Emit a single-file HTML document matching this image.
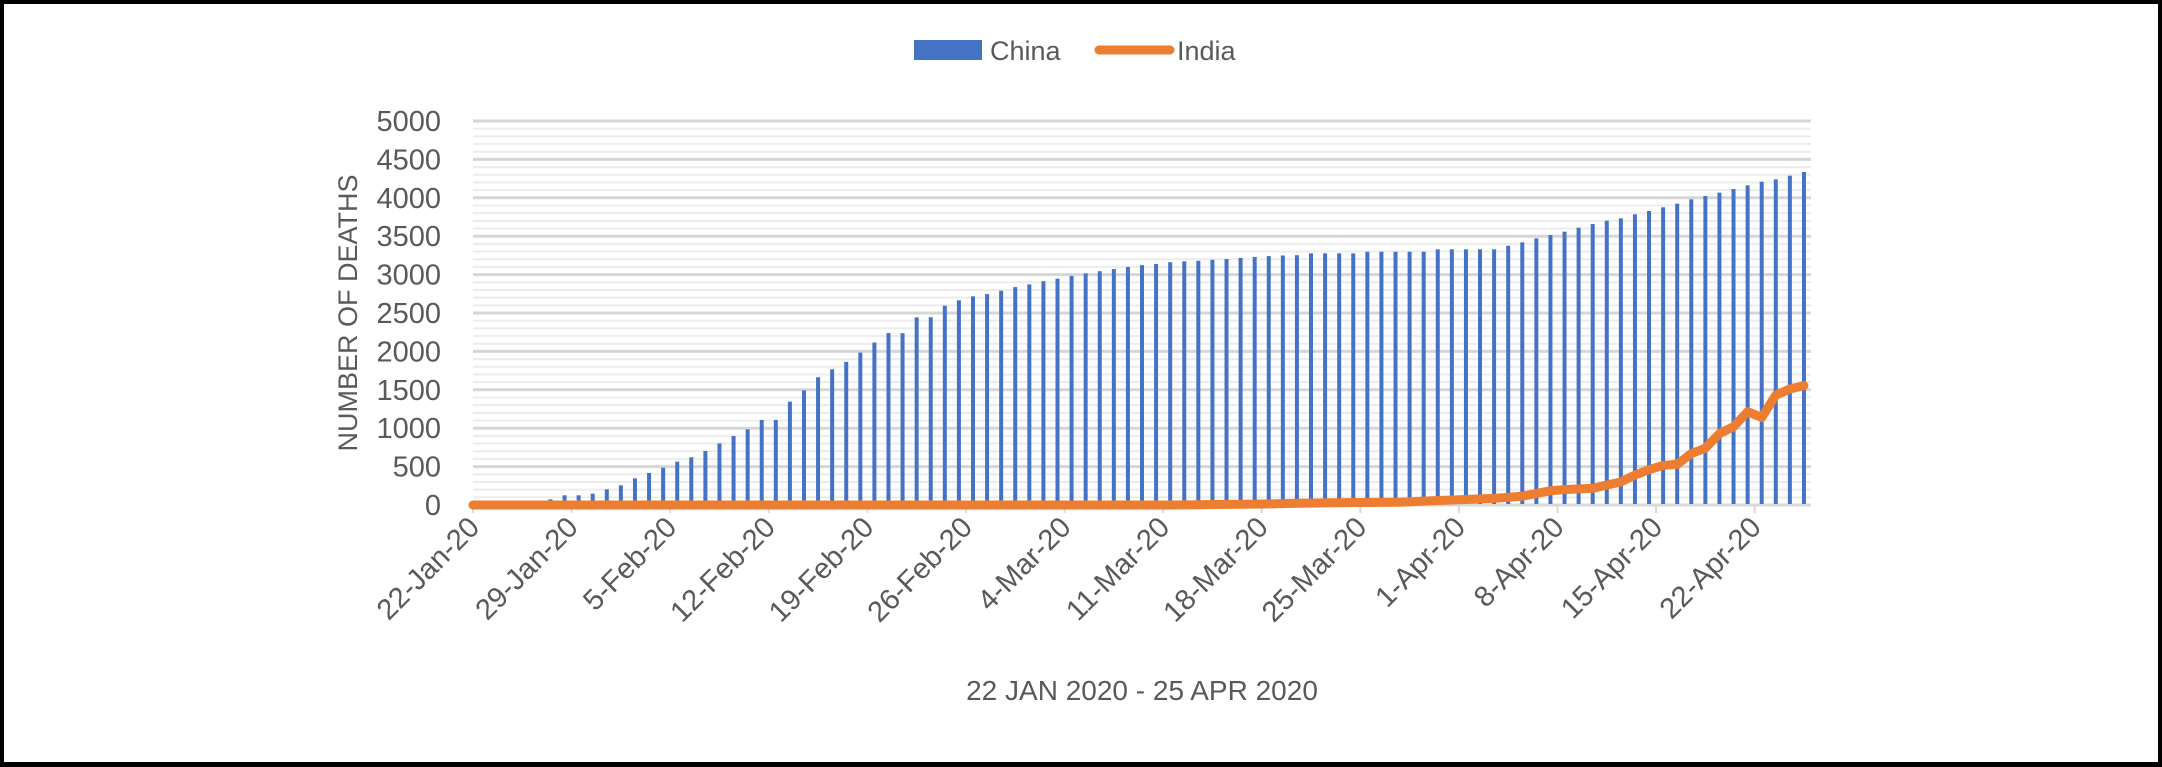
<!DOCTYPE html>
<html><head><meta charset="utf-8">
<style>
html,body{margin:0;padding:0;background:#fff;}
body{width:2162px;height:767px;overflow:hidden;position:relative;}
#frame{position:absolute;left:0;top:0;width:2154px;height:758px;border:4px solid #000;border-bottom-width:5px;}
svg{position:absolute;left:0;top:0;}
text{font-family:"Liberation Sans",sans-serif;fill:#595959;}
</style></head>
<body>
<div id="frame"></div>
<svg id="chart" width="2162" height="767"></svg>
<script>
const categoryStart = "2020-01-22";
const tickLabels = ["22-Jan-20","29-Jan-20","5-Feb-20","12-Feb-20","19-Feb-20","26-Feb-20","4-Mar-20","11-Mar-20","18-Mar-20","25-Mar-20","1-Apr-20","8-Apr-20","15-Apr-20","22-Apr-20"];
const yTicks = [0,500,1000,1500,2000,2500,3000,3500,4000,4500,5000];
const chinaValues = [0,0,0,0,5,74,126,126,148,204,256,347,417,486,564,621,703,803,898,985,1107,1107,1346,1493,1663,1766,1864,1984,2115,2239,2238,2443,2445,2595,2665,2717,2746,2790,2837,2872,2914,2947,2983,3015,3044,3072,3100,3123,3139,3161,3172,3180,3193,3203,3217,3230,3241,3249,3253,3277,3277,3277,3277,3298,3298,3298,3298,3298,3329,3329,3329,3329,3329,3376,3420,3472,3515,3559,3611,3659,3702,3732,3785,3828,3876,3923,3980,4023,4067,4114,4162,4210,4240,4288,4336];
const indiaValues = [0,0,0,0,0,0,0,0,0,0,0,0,0,0,0,0,0,0,0,0,0,0,0,0,0,0,0,0,0,0,0,0,0,0,0,0,0,0,0,0,0,0,0,0,0,0,0,0,0,0,2,4,6,8,10,12,15,18,22,25,28,30,32,33,34,35,40,50,58,65,72,80,87,100,115,150,185,200,210,217,260,300,390,460,515,530,670,740,930,1020,1215,1140,1430,1510,1554];

const svg = document.getElementById('chart');
const NS = 'http://www.w3.org/2000/svg';
const X0 = 473, X1 = 1811, Y0 = 505, Y1 = 121, YMAX = 5000;
const n = chinaValues.length;
const bw = (X1 - X0) / n;
function xEdge(i){ return X0 + i * bw; }
function xC(i){ return X0 + (i + 0.5) * bw; }
function yS(v){ return Y0 - (v / YMAX) * (Y0 - Y1); }
function mk(tag, attrs){ const e = document.createElementNS(NS, tag); for (const k in attrs) e.setAttribute(k, attrs[k]); svg.appendChild(e); return e; }

for (let v = 100; v < YMAX; v += 100) {
  if (v % 500 === 0) continue;
  const g = mk('line', {x1:X0, x2:X1, y1:yS(v), y2:yS(v), stroke:'#ececec', 'stroke-width':2});
  
  
}
yTicks.forEach(v => {
  const g = mk('line', {x1:X0, x2:X1, y1:yS(v), y2:yS(v), stroke:'#d6d6d6', 'stroke-width':3});
  
  
  const t = mk('text', {x:441, y:yS(v) + 10, 'text-anchor':'end', 'font-size':29});
  t.textContent = v;
  
  
});
chinaValues.forEach((v, i) => {
  const r = mk('rect', {x:xC(i) - 2, y:yS(v), width:4, height:Y0 - yS(v), fill:'#4472C4'});
  
  
});
const ax = mk('line', {x1:X0, x2:X1, y1:Y0, y2:Y0, stroke:'#d9d9d9', 'stroke-width':2});


tickLabels.forEach((lab, k) => {
  const x = xEdge(k * 7);
  const tk = mk('line', {x1:x, x2:x, y1:Y0, y2:Y0 + 8, stroke:'#d9d9d9', 'stroke-width':2});
  
  
  const t = mk('text', {x:x + 8, y:Y0 + 24, 'text-anchor':'end', 'font-size':29, transform:`rotate(-45 ${x + 8} ${Y0 + 24})`});
  t.textContent = lab;
  
  
});
const pts = indiaValues.map((v, i) => `${i === 0 ? X0 : xC(i)},${yS(v)}`).join(' ');
const pl = mk('polyline', {points:pts, fill:'none', stroke:'#ED7D31', 'stroke-width':9, 'stroke-linejoin':'round', 'stroke-linecap':'round'});



const yt = mk('text', {x:0, y:0, 'text-anchor':'middle', 'font-size':27, transform:'translate(357 313) rotate(-90)'});
yt.textContent = 'NUMBER OF DEATHS';


const xt = mk('text', {x:1142, y:700, 'text-anchor':'middle', 'font-size':28});
xt.textContent = '22 JAN 2020 - 25 APR 2020';



const ls = mk('rect', {x:914, y:40, width:68, height:20, fill:'#4472C4'});


const lt = mk('text', {x:990, y:60, 'font-size':27});
lt.textContent = 'China';


const ll = mk('line', {x1:1099, x2:1170, y1:50, y2:50, stroke:'#ED7D31', 'stroke-width':9, 'stroke-linecap':'round'});


const lt2 = mk('text', {x:1177, y:60, 'font-size':27});
lt2.textContent = 'India';


</script>
</body></html>
